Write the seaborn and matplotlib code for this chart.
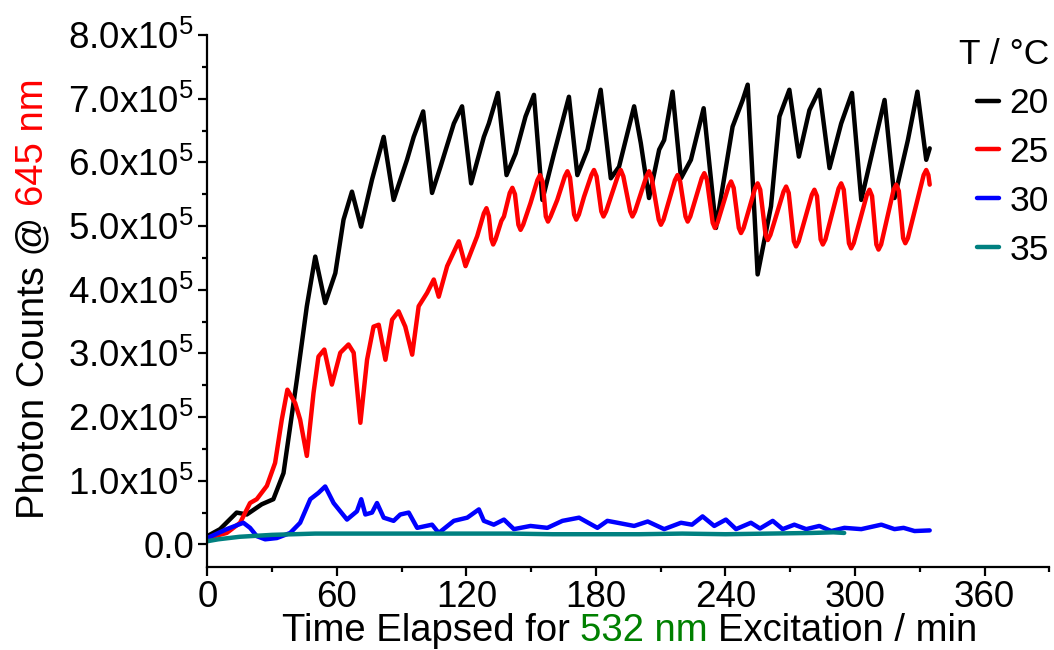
import matplotlib
matplotlib.use("Agg")
import matplotlib.pyplot as plt
from matplotlib.ticker import MultipleLocator, FuncFormatter
from matplotlib.lines import Line2D
import seaborn as sns
import pandas as pd

# Photon counts (units of 1e5) versus excitation time (min) for each temperature
t_20 = [0, 5.9, 13.6, 18.3, 25.2, 30.6, 35.3, 41.5, 46.1, 50, 54.6, 59.3, 63.1, 67,
        71.2, 76.3, 81.7, 86.3, 92.5, 95.6, 100, 104.1, 108, 114.2, 118, 122.2, 128.1,
        130.4, 134.6, 138.6, 142.8, 147.4, 151.3, 155.2, 160.6, 167.5, 171.4, 176.1,
        182.2, 186.9, 190.7, 197.7, 200.8, 204.6, 209.3, 211.6, 215.5, 219.4, 224,
        229.9, 235.6, 243.3, 248, 250.3, 254.9, 261.1, 265, 269.6, 274, 278.9, 283.5,
        288.2, 293.6, 298.6, 302.9, 309, 313.7, 318.3, 324.5, 328.9, 333, 334.6]
v_20 = [0.13, 0.24, 0.50, 0.47, 0.63, 0.71, 1.12, 2.59, 3.74, 4.52, 3.79, 4.26, 5.10, 5.54,
        4.99, 5.73, 6.40, 5.41, 6.04, 6.40, 6.80, 5.52, 5.93, 6.61, 6.88, 5.67, 6.40,
        6.61, 7.09, 5.80, 6.14, 6.72, 7.06, 5.41, 6.14, 7.03, 5.80, 6.20,
        7.14, 5.75, 5.93, 6.88, 6.30, 5.44, 6.20, 6.35, 7.11, 5.75, 6.04,
        6.85, 4.97, 6.56, 6.98, 7.22, 4.24, 5.31, 6.72, 7.14, 6.09, 6.82, 7.14,
        5.91, 6.61, 7.09, 5.41, 6.30, 6.98, 5.44, 6.35, 7.11, 6.04, 6.22]

t_25 = [0, 9, 15.2, 19.8, 22.9, 27.6, 31.4, 34.5, 37.1, 40.7, 43, 46.1, 49.2, 51.5, 54.2,
        57.7, 61.6, 65.4, 67.8, 70.9, 74, 77, 79.4, 82.5, 85.6, 88.6, 91.7, 94.9, 97.9,
        101.8, 104.9, 107.2, 111.1, 116.5, 119.6, 125,
        128.1, 129.3, 130.4, 131.5, 132.4, 133.5, 136.2, 137.4, 140.1, 141.3, 142.5,
        144.1, 145.1, 146.3, 149.7, 152.9, 154.1, 155.3, 156.8, 157.8, 159.0,
        162.1, 165.6, 166.8, 168.0, 169.9, 170.9, 172.1, 174.5, 177.9, 179.1, 180.3,
        182.5, 183.5, 184.7, 190.3, 191.5, 192.7, 195.9, 196.9, 198.1,
        203.4, 204.6, 205.8, 209.1, 210.1, 211.3, 216.6, 217.8, 219.0,
        221.5, 222.5, 223.7, 229.0, 230.2, 231.4, 234.1, 235.1, 236.3,
        241.4, 242.6, 243.8, 246.2, 247.2, 248.4, 253.7, 254.9, 256.1,
        258.6, 259.6, 260.8, 266.9, 268.1, 269.3, 271.7, 272.7, 273.9,
        280.0, 281.2, 282.4, 284.1, 285.1, 286.3, 292.4, 293.6, 294.8,
        297.2, 298.2, 299.4, 305.5, 306.7, 307.9, 309.9, 310.9, 312.1,
        317.9, 319.1, 320.3, 322.3, 323.3, 324.5, 331.8, 333.0, 334.0, 334.6]
v_25 = [0.10, 0.18, 0.34, 0.65, 0.71, 0.92, 1.28, 1.96, 2.43, 2.22, 1.96, 1.39, 2.38, 2.95, 3.06,
        2.51, 3.01, 3.14, 3.01, 1.91, 2.90, 3.42, 3.45, 2.90, 3.53, 3.66, 3.42, 2.98, 3.74,
        3.95, 4.16, 3.89, 4.37, 4.76, 4.37, 4.84,
        5.20, 5.28, 5.16, 4.80, 4.71, 4.79, 5.08, 5.15, 5.52, 5.60, 5.50,
        5.02, 4.94, 5.02, 5.36, 5.72, 5.80, 5.70, 5.15, 5.07, 5.15,
        5.41, 5.78, 5.86, 5.76, 5.18, 5.10, 5.18, 5.46, 5.80, 5.88, 5.78,
        5.23, 5.15, 5.23, 5.80, 5.88, 5.78, 5.23, 5.15, 5.23,
        5.78, 5.86, 5.76, 5.10, 5.02, 5.10, 5.72, 5.80, 5.70,
        5.15, 5.07, 5.15, 5.75, 5.83, 5.73, 5.05, 4.97, 5.05,
        5.62, 5.70, 5.60, 4.97, 4.89, 4.97, 5.59, 5.67, 5.57,
        4.86, 4.78, 4.86, 5.54, 5.62, 5.52, 4.76, 4.68, 4.76,
        5.49, 5.57, 5.47, 4.79, 4.71, 4.79, 5.59, 5.67, 5.57,
        4.73, 4.65, 4.73, 5.49, 5.57, 5.47, 4.71, 4.63, 4.71,
        5.57, 5.65, 5.55, 4.81, 4.73, 4.81, 5.80, 5.88, 5.80, 5.65]

t_30 = [0, 9, 16.7, 19.8, 22.9, 26.8, 32.2, 38.4, 43, 47.7, 51.5, 54.6, 58.5, 64.7, 69.3,
        71.3, 73.2, 76.3, 78.6, 81.7, 86.3, 89.4, 93.3, 97.2, 104.1, 107.2, 114.2, 120.4,
        125.8, 128.1, 132.7, 137.4, 142, 149.7, 157.5, 164.5, 172.2, 180.7, 185.3, 190,
        197.7, 204, 211.6, 219.4, 224.5, 229.4, 234.8, 240.2, 244.9, 251.8, 256, 261.9,
        266.5, 271.9, 277.4, 283.5, 289, 295.1, 302.9, 312.2, 318.3, 322.5, 327.6, 334.6]
v_30 = [0.10, 0.24, 0.34, 0.26, 0.13, 0.08, 0.10, 0.18, 0.34, 0.71, 0.81, 0.91, 0.65, 0.39, 0.52,
        0.71, 0.47, 0.50, 0.65, 0.42, 0.37, 0.47, 0.50, 0.26, 0.31, 0.18, 0.37, 0.42,
        0.55, 0.37, 0.31, 0.39, 0.24, 0.29, 0.26, 0.37, 0.42, 0.26, 0.37, 0.34,
        0.29, 0.36, 0.24, 0.34, 0.31, 0.44, 0.29, 0.39, 0.24, 0.34, 0.25, 0.37,
        0.24, 0.31, 0.24, 0.29, 0.21, 0.26, 0.24, 0.31, 0.24, 0.26, 0.21, 0.22]

t_35 = [0, 5, 10, 15, 20, 25, 30, 40, 50, 60, 80, 100, 120, 140, 160, 180, 200, 220,
        240, 260, 280, 290, 295]
v_35 = [0.05, 0.08, 0.10, 0.12, 0.13, 0.14, 0.15, 0.16, 0.17, 0.17, 0.17, 0.17, 0.17, 0.17,
        0.16, 0.16, 0.16, 0.17, 0.16, 0.17, 0.18, 0.19, 0.18]

temps = ["20", "25", "30", "35"]
colors = ["#000000", "#FF0000", "#0000FF", "#008080"]
series_t = [t_20, t_25, t_30, t_35]
series_v = [v_20, v_25, v_30, v_35]

frames = []
for temp, ts, vs in zip(temps, series_t, series_v):
    frames.append(pd.DataFrame({"time": ts,
                                "counts": [v * 1e5 for v in vs],
                                "T": temp}))
df = pd.concat(frames, ignore_index=True)

sns.set_theme(style="ticks")
plt.rcParams["font.family"] = ["Liberation Sans", "DejaVu Sans"]
plt.rcParams["mathtext.fontset"] = "custom"
plt.rcParams["mathtext.rm"] = "Liberation Sans"
plt.rcParams["mathtext.it"] = "Liberation Sans:italic"
plt.rcParams["mathtext.bf"] = "Liberation Sans:bold"
plt.rcParams["text.color"] = "black"
plt.rcParams["axes.labelcolor"] = "black"

W, H = 1054, 650
fig = plt.figure(figsize=(W / 100, H / 100), dpi=100)
ax = fig.add_axes([207.3 / W, 1 - 566.7 / H, (1049.3 - 207.3) / W, (566.7 - 35) / H])

sns.lineplot(data=df, x="time", y="counts", hue="T", hue_order=temps,
             palette=dict(zip(temps, colors)), estimator=None, sort=False,
             linewidth=3.2, ax=ax, legend=False)
for ln in ax.get_lines():
    ln.set_solid_joinstyle("round")
    ln.set_solid_capstyle("round")

ax.set_xlim(0, 390)
ax.set_ylim(-0.35e5, 8.0e5)
ax.xaxis.set_major_locator(MultipleLocator(60))
ax.xaxis.set_minor_locator(MultipleLocator(30))
ax.yaxis.set_major_locator(MultipleLocator(1e5))
ax.yaxis.set_minor_locator(MultipleLocator(0.5e5))


def y_fmt(v, pos):
    if abs(v) < 1:
        return "0.0"
    return f"{v / 1e5:.1f}x10$^{{5}}$"


ax.yaxis.set_major_formatter(FuncFormatter(y_fmt))
ax.set_xlabel("")
ax.set_ylabel("")
for side in ("top", "right"):
    ax.spines[side].set_visible(False)
for side in ("left", "bottom"):
    ax.spines[side].set_linewidth(1.6)
    ax.spines[side].set_color("black")
ax.tick_params(which="major", direction="out", length=6.5, width=1.6,
               labelsize=26.5, colors="black", pad=3)
ax.tick_params(which="minor", direction="out", length=3.8, width=1.6, colors="black")

handles = [Line2D([], [], color=c, lw=3.2) for c in colors]
leg = ax.legend(handles, temps, title="T / \u00b0C", loc="upper right",
                bbox_to_anchor=(1049 / W, 1 - 38 / H), bbox_transform=fig.transFigure,
                frameon=False, fontsize=25.5, title_fontsize=25.5, handlelength=0.62,
                handletextpad=0.31, labelspacing=0.45, borderaxespad=0, borderpad=0,
                alignment="right")
for txt in leg.get_texts():
    txt.set_color("black")
leg.get_title().set_color("black")


def draw_segments(segments, x, y, rotation=0, size=27.5):
    """Place coloured text pieces one after another, centred on (x, y) in pixels."""
    r = fig.canvas.get_renderer()

    def width(s):
        t = fig.text(0, 0, s, fontsize=size)
        w = t.get_window_extent(r).width
        t.remove()
        return w

    gap = width("a a") - width("aa")
    widths = [width(s) for s, _ in segments]
    total = sum(widths) + gap * (len(segments) - 1)
    pos = (x if rotation == 0 else y) - total / 2
    for (s, c), w in zip(segments, widths):
        if rotation == 0:
            fig.text(pos / W, y / H, s, color=c, fontsize=size, ha="left", va="baseline")
        else:
            fig.text(x / W, pos / H, s, color=c, fontsize=size, ha="left", va="baseline",
                     rotation=90, rotation_mode="anchor")
        pos += w + gap


fig.canvas.draw()
draw_segments([("Time Elapsed for", "black"), ("532 nm", "#008000"),
               ("Excitation / min", "black")], 629.5, H - 641)
draw_segments([("Photon Counts @", "black"), ("645 nm", "#FF0000")],
              43, H - 298.5, rotation=90)

fig.savefig("out.png", dpi=100)
